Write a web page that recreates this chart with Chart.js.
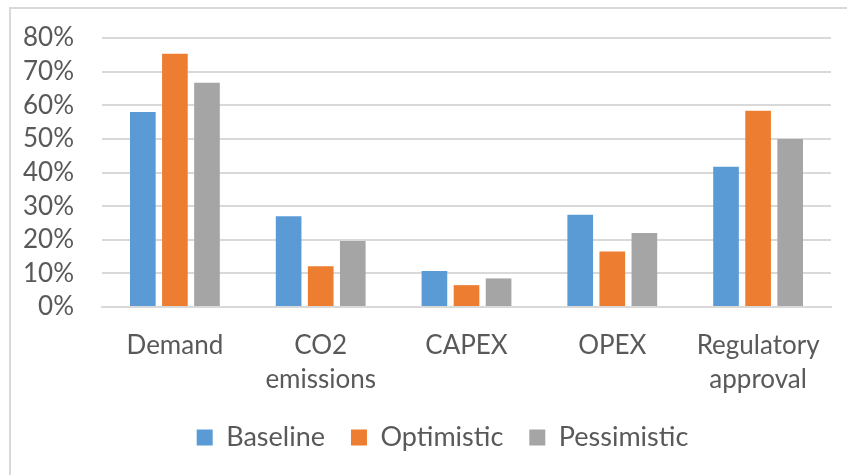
<!DOCTYPE html>
<html>
<head>
<meta charset="utf-8">
<script src="https://cdn.jsdelivr.net/npm/chart.js@4.4.1/dist/chart.umd.min.js"></script>
<style>
  html, body { margin: 0; padding: 0; background: #ffffff; }
  #wrap { position: relative; width: 847px; height: 475px; overflow: hidden; }
  #frame { position: absolute; left: 9px; top: 7px; width: 900px; height: 600px;
           border-top: 2px solid #d9d9d9; border-left: 2px solid #d9d9d9; box-sizing: border-box; }
  canvas { position: absolute; left: 0; top: 0; }
</style>
</head>
<body>
<div id="wrap">
  <div id="frame"></div>
  <canvas id="c" width="847" height="475"></canvas>
</div>
<script>
const categories = [["Demand"], ["CO2", "emissions"], ["CAPEX"], ["OPEX"], ["Regulatory", "approval"]];
const seriesNames = ["Baseline", "Optimistic", "Pessimistic"];
const baseline    = [0.58, 0.27, 0.107, 0.274, 0.417];
const optimistic  = [0.753, 0.121, 0.065, 0.165, 0.584];
const pessimistic = [0.667, 0.196, 0.085, 0.22, 0.50];
const yTicks = [0, 0.1, 0.2, 0.3, 0.4, 0.5, 0.6, 0.7, 0.8];
const colors = ["#5B9BD5", "#ED7D31", "#A5A5A5"];

const FONT = "Lato, 'Liberation Sans', sans-serif";
const TXT = "#595959";

const legendShift = {
  id: "legendShift",
  afterLayout(chart) {
    const lg = chart.legend;
    if (lg) { lg.left += 27; lg.right += 27; }
  }
};

new Chart(document.getElementById("c"), {
  type: "bar",
  data: {
    labels: categories,
    datasets: [baseline, optimistic, pessimistic].map((d, i) => ({
      label: seriesNames[i],
      data: d,
      backgroundColor: colors[i],
      borderWidth: 0,
      categoryPercentage: 0.66,
      barPercentage: 0.8
    }))
  },
  plugins: [legendShift],
  options: {
    responsive: false,
    animation: false,
    layout: { padding: { left: 0, right: 16, top: 38, bottom: 14 } },
    plugins: {
      tooltip: { enabled: false },
      legend: {
        position: "bottom",
        labels: {
          color: TXT,
          font: { family: FONT, size: 27 },
          boxWidth: 16,
          boxHeight: 16,
          padding: 26
        }
      }
    },
    scales: {
      x: {
        grid: { display: false, drawTicks: false },
        border: { display: true, color: "#d9d9d9", width: 2 },
        ticks: {
          color: TXT,
          font: { family: FONT, size: 26, lineHeight: 1.3 },
          padding: 22,
          maxRotation: 0,
          autoSkip: false
        },
        afterFit: (a) => { a.height = 91; a.paddingLeft = 0; a.paddingRight = 0; }
      },
      y: {
        min: 0,
        max: 0.8,
        afterBuildTicks: (a) => { a.ticks = yTicks.map(v => ({ value: v })); },
        grid: { color: "#d9d9d9", lineWidth: 2, drawTicks: false },
        border: { display: false },
        ticks: {
          color: TXT,
          font: { family: FONT, size: 26 },
          padding: 28,
          autoSkip: false,
          callback: (v) => Math.round(v * 100) + "%"
        },
        afterFit: (a) => { a.width = 102; a.paddingTop = 0; a.paddingBottom = 0; }
      }
    }
  }
});
</script>
</body>
</html>
